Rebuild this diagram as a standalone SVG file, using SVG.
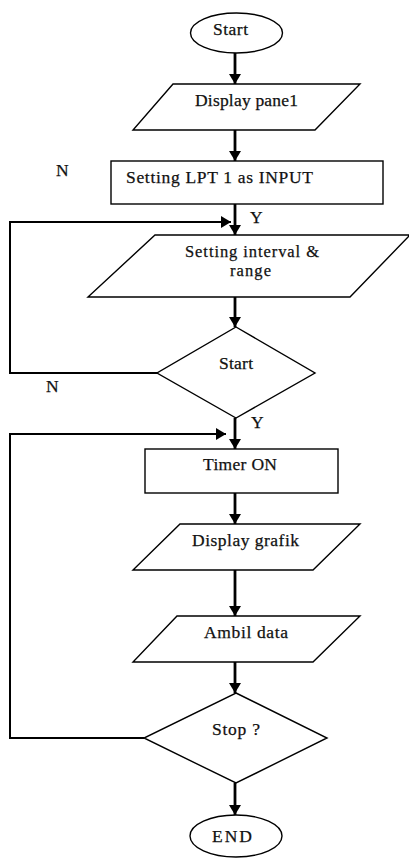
<svg xmlns="http://www.w3.org/2000/svg" width="409" height="858" viewBox="0 0 409 858">
<defs>
<marker id="ah" markerUnits="userSpaceOnUse" markerWidth="12" markerHeight="12" viewBox="0 0 10 12" refX="10" refY="6" orient="auto">
<path d="M0,0 L10,6 L0,12 Z" fill="#000"/>
</marker>
</defs>
<style>
.s{fill:#fff;stroke:#000;stroke-width:1.4}
.t{font-family:"Liberation Serif","Times New Roman",serif;font-size:17.5px;fill:#111;stroke:#111;stroke-width:0.25}
.t2{font-size:16.5px}
.c{fill:none;stroke:#000;stroke-width:2.8}
.l{fill:none;stroke:#000;stroke-width:2}
</style>
<rect width="409" height="858" fill="#fff"/>
<g id="connectors">
<line class="c" x1="235" y1="53" x2="235" y2="84" marker-end="url(#ah)"/>
<line class="c" x1="235" y1="130" x2="235" y2="161" marker-end="url(#ah)"/>
<line class="c" x1="235" y1="204" x2="235" y2="235" marker-end="url(#ah)"/>
<polyline class="l" points="157,373 10,373 10,222 231,222" marker-end="url(#ah)"/>
<line class="c" x1="235" y1="297" x2="235" y2="327" marker-end="url(#ah)"/>
<line class="c" x1="235" y1="418" x2="235" y2="449" marker-end="url(#ah)"/>
<polyline class="l" points="144,738 10,738 10,434 226,434" marker-end="url(#ah)"/>
<line class="c" x1="235" y1="493" x2="235" y2="524" marker-end="url(#ah)"/>
<line class="c" x1="235" y1="570" x2="235" y2="616" marker-end="url(#ah)"/>
<line class="c" x1="235" y1="662" x2="235" y2="693" marker-end="url(#ah)"/>
<line class="c" x1="235" y1="783" x2="235" y2="815" marker-end="url(#ah)"/>
</g>
<g id="start">
<ellipse class="s" cx="236.5" cy="33" rx="46" ry="20"/>
<text class="t" x="213" y="35" textLength="35" lengthAdjust="spacing">Start</text>
</g>
<g id="display-panel">
<polygon class="s" points="173,84 360,84 315,130 133,130"/>
<text class="t" x="195" y="106" textLength="103" lengthAdjust="spacing">Display pane1</text>
</g>
<g id="setting-lpt">
<rect class="s" x="111" y="161" width="272" height="43"/>
<text class="t" x="126" y="183" textLength="187" lengthAdjust="spacing">Setting LPT 1 as INPUT</text>
</g>
<g id="setting-interval">
<polygon class="s" points="155,235 410,235 350,297 88,297"/>
<text class="t t2" x="185" y="257" textLength="134" lengthAdjust="spacing">Setting interval &amp;</text>
<text class="t t2" x="230" y="276" textLength="41" lengthAdjust="spacing">range</text>
</g>
<g id="start-decision">
<polygon class="s" points="236,327 315,373 236,418 157,373"/>
<text class="t" x="219" y="369" textLength="34" lengthAdjust="spacing">Start</text>
</g>
<g id="timer-on">
<rect class="s" x="145" y="449" width="193" height="44"/>
<text class="t" x="203" y="470" textLength="74" lengthAdjust="spacing">Timer ON</text>
</g>
<g id="display-grafik">
<polygon class="s" points="180,524 360,524 313,570 133,570"/>
<text class="t" x="192" y="546" textLength="107" lengthAdjust="spacing">Display grafik</text>
</g>
<g id="ambil-data">
<polygon class="s" points="177,616 360,616 313,662 133,662"/>
<text class="t" x="204" y="638" textLength="84" lengthAdjust="spacing">Ambil data</text>
</g>
<g id="stop-decision">
<polygon class="s" points="236,693 327,738 236,783 144,738"/>
<text class="t" x="212" y="735" textLength="48" lengthAdjust="spacing">Stop ?</text>
</g>
<g id="end">
<ellipse class="s" cx="236" cy="836" rx="46" ry="21"/>
<text class="t" x="212" y="842" textLength="40" lengthAdjust="spacing">END</text>
</g>
<g id="labels">
<text class="t" x="56" y="176">N</text>
<text class="t" x="250" y="223">Y</text>
<text class="t" x="46" y="392">N</text>
<text class="t" x="251" y="428">Y</text>
</g>
</svg>
